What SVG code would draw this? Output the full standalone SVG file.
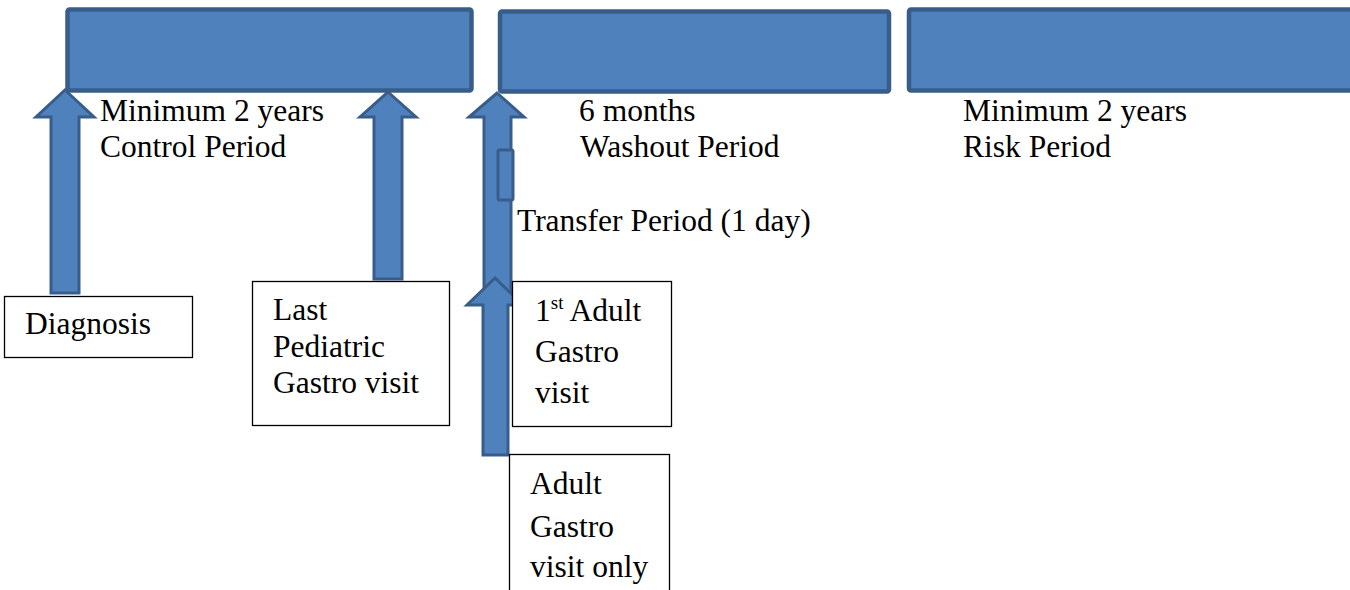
<svg xmlns="http://www.w3.org/2000/svg" width="1350" height="590" viewBox="0 0 1350 590">
<style>
.bar{fill:#4F81BD;stroke:#385D8A;stroke-width:4.5}
.arr{fill:#4F81BD;stroke:#385D8A;stroke-width:3;stroke-linejoin:miter}
.box{fill:#FFFFFF;stroke:#000000;stroke-width:1.3}
text{font-family:'Liberation Serif','Times New Roman','DejaVu Serif',serif;font-size:31.5px;fill:#000000}
.s{font-size:19px}
</style>
<rect width="1350" height="590" fill="#FFFFFF"/>
<g id="bar-control"><rect class="bar" x="67.5" y="9.5" width="404" height="81" rx="2"/></g>
<g id="bar-washout"><rect class="bar" x="500" y="11.5" width="389" height="80" rx="2"/></g>
<g id="bar-risk"><rect class="bar" x="909" y="9.5" width="450" height="81" rx="2"/></g>
<g id="connectors">
<path class="arr" d="M65,90 L94,117 L79,117 L79,293 L51,293 L51,117 L36,117 Z"/>
<path class="arr" d="M388,92 L416,117 L402,117 L402,279 L374,279 L374,117 L360,117 Z"/>
<path class="arr" d="M497,93 L524,117 L511,117 L511,292 L484,292 L484,117 L469,117 Z"/>
<rect class="arr" x="498" y="150" width="15" height="50" rx="1.5"/>
<path class="arr" d="M495,278 L523,305 L508,305 L508,455 L483,455 L483,305 L467,305 Z"/>
</g>
<g id="text-control" font-family="Liberation Serif, serif"><text x="100" y="121">Minimum 2 years</text><text x="100" y="157">Control Period</text></g>
<g id="text-washout" font-family="Liberation Serif, serif"><text x="579" y="121">6 months</text><text x="580" y="157">Washout Period</text></g>
<g id="text-transfer" font-family="Liberation Serif, serif"><text x="517" y="231">Transfer Period (1 day)</text></g>
<g id="text-risk" font-family="Liberation Serif, serif"><text x="963" y="121">Minimum 2 years</text><text x="963" y="157">Risk Period</text></g>
<g id="box-diagnosis"><rect class="box" x="4.5" y="296.5" width="188" height="61"/><text x="25" y="334">Diagnosis</text></g>
<g id="box-last-pediatric"><rect class="box" x="252.5" y="281.5" width="197" height="144"/><text x="273" y="320">Last</text><text x="273" y="357">Pediatric</text><text x="273" y="393">Gastro visit</text></g>
<g id="box-first-adult"><rect class="box" x="512.5" y="281.5" width="159" height="145"/><text x="535" y="321">1<tspan class="s" dy="-12">st</tspan><tspan dy="12"> Adult</tspan></text><text x="535" y="362">Gastro</text><text x="535" y="403">visit</text></g>
<g id="box-adult-only"><rect class="box" x="509.5" y="454.5" width="160" height="150"/><text x="530" y="494">Adult</text><text x="530" y="537">Gastro</text><text x="530" y="577">visit only</text></g>
</svg>
